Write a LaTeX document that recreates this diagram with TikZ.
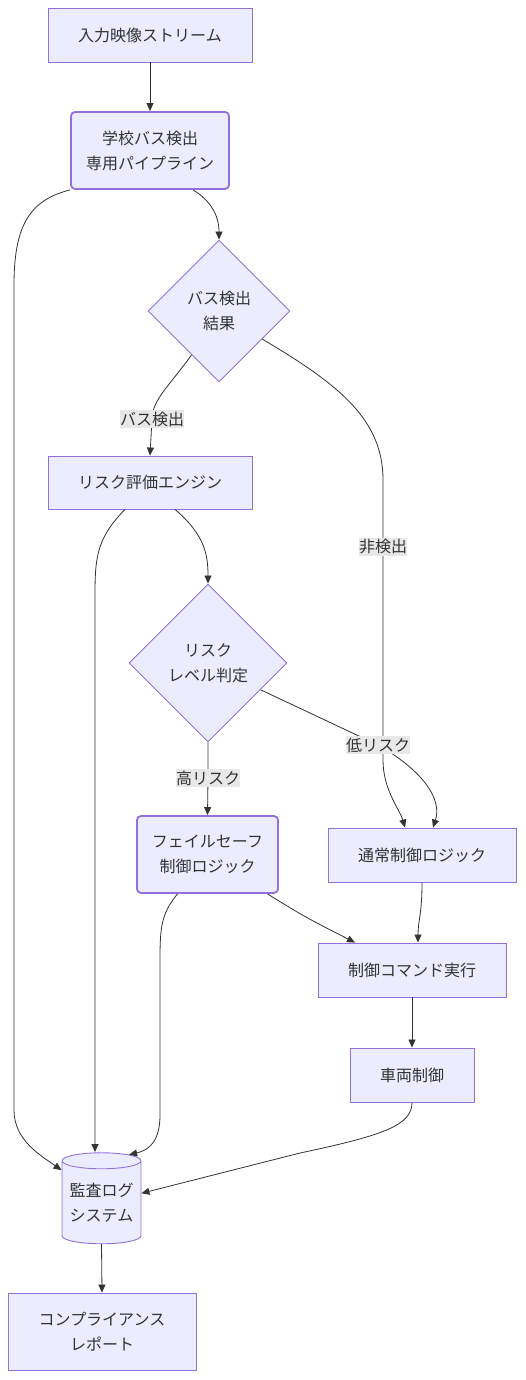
\documentclass[tikz,border=0pt]{standalone}
\usepackage{fontspec}
\setmainfont{Noto Sans CJK JP}
\usetikzlibrary{shapes.geometric,arrows.meta}
\definecolor{boxfill}{HTML}{ECECFF}
\definecolor{boxline}{HTML}{9370DB}
\definecolor{edgeline}{HTML}{333333}
\definecolor{lblfill}{HTML}{E8E8E8}
\begin{document}
\begin{tikzpicture}[x=1pt,y=-1pt,
  box/.style={draw=boxline,fill=boxfill,line width=0.9pt,align=center,inner sep=0pt,
    text=edgeline,font=\fontsize{16}{25}\selectfont},
  boldbox/.style={box,line width=1.8pt,rounded corners=4pt},
  choice/.style={box,diamond,aspect=1},
  store/.style={box,cylinder,shape border rotate=90,aspect=0.25},
  flow/.style={draw=edgeline,line width=0.8pt,-{Triangle[length=8pt,width=7pt]}},
  lbl/.style={fill=lblfill,text=edgeline,inner xsep=0pt,inner ysep=2pt,font=\fontsize{16}{20}\selectfont}]
\useasboundingbox (0,0) rectangle (525,1380);

\node[box,minimum width=204pt,minimum height=54pt] (input) at (150,35) {入力映像ストリーム};
\node[boldbox,minimum width=158pt,minimum height=77pt] (pipe) at (150,150.5) {学校バス検出\\専用パイプライン};
\node[choice,minimum width=142pt,minimum height=142pt] (busres) at (219,311) {バス検出\\結果};
\node[box,minimum width=204pt,minimum height=53pt] (riskeng) at (150,482.5) {リスク評価エンジン};
\node[choice,minimum width=158pt,minimum height=158pt] (risklvl) at (208,663) {リスク\\レベル判定};
\node[boldbox,minimum width=141pt,minimum height=77pt] (failsafe) at (207.5,854.5) {フェイルセーフ\\制御ロジック};
\node[box,minimum width=188pt,minimum height=54pt] (normal) at (422,855) {通常制御ロジック};
\node[box,minimum width=188pt,minimum height=54pt] (cmd) at (412,970) {制御コマンド実行};
\node[box,minimum width=124pt,minimum height=54pt] (vehicle) at (412,1075) {車両制御};
\node[store,minimum width=79pt,minimum height=91pt] (audit) at (101.5,1202.5) {監査ログ\\システム};
\node[box,minimum width=188pt,minimum height=77pt] (report) at (102,1331.5) {コンプライアンス\\レポート};

\draw[flow] (input) -- (pipe);
\draw[flow] ([xshift=43pt]pipe.south) .. controls (210,200) and (219,215) .. (busres.north);
\draw[flow] (pipe.south west) .. controls (30,200) and (14,225) .. (14,285) -- (14,1110)
  .. controls (14,1140) and (40,1155) .. (audit.141);
\draw[flow] (busres.238) .. controls (170,385) and (152,400) .. (152,419) node[lbl] {バス検出} -- (riskeng.north);
\draw[flow] (busres.327) .. controls (340,385) and (383,420) .. (383,480) -- (383,547) node[lbl] {非検出}
  -- (383,760) .. controls (383,790) and (400,810) .. ([xshift=-17pt]normal.north);
\draw[flow] ([xshift=25pt]riskeng.south) .. controls (205,535) and (208,555) .. (risklvl.north);
\draw[flow] ([xshift=-25pt]riskeng.south) .. controls (95,540) and (95,560) .. (95,600) -- (95,1152);
\draw[flow] (risklvl.south) -- (208,778) node[lbl] {高リスク} -- (failsafe.north);
\draw[flow] (risklvl.333) -- (378,745) node[lbl] {低リスク}
  .. controls (425,772) and (442,800) .. ([xshift=11pt]normal.north);
\draw[flow] ([xshift=-30pt]failsafe.south) .. controls (160,915) and (160,930) .. (160,965) -- (160,1115)
  .. controls (160,1140) and (150,1150) .. (audit.60);
\draw[flow] ([xshift=60pt]failsafe.south) .. controls (305,917) .. ([xshift=-57pt]cmd.north);
\draw[flow] (normal.south) .. controls (422,915) and (418,920) .. ([xshift=6pt]cmd.north);
\draw[flow] (cmd.south) -- (vehicle.north);
\draw[flow] (vehicle.south) .. controls (412,1125) and (385,1135) .. (300,1153) -- (audit.13);
\draw[flow] (audit.south) -- (report.north);
\end{tikzpicture}
\end{document}
